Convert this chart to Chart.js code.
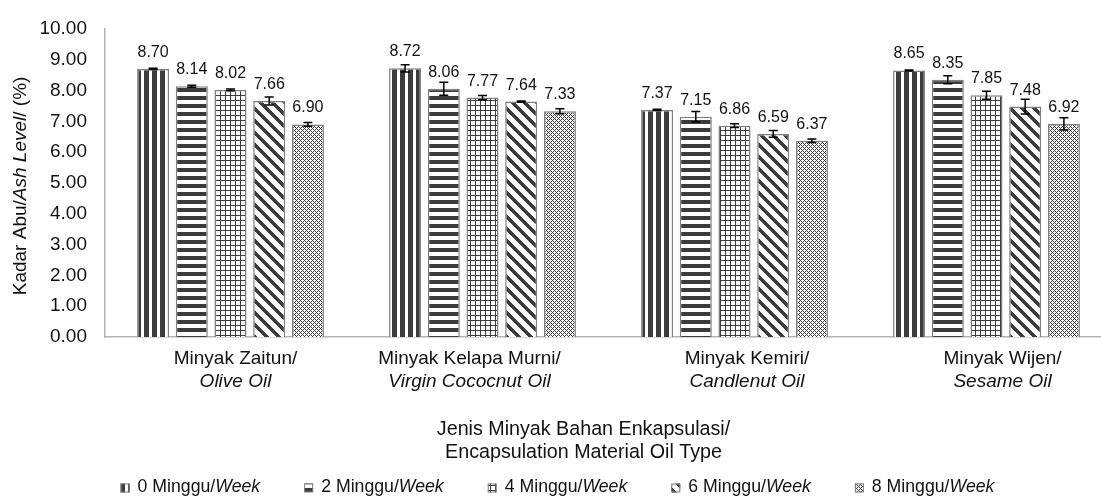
<!DOCTYPE html>
<html>
<head>
<meta charset="utf-8">
<script src="https://cdn.jsdelivr.net/npm/chart.js@4.4.1/dist/chart.umd.min.js"></script>
<style>
    html, body { margin: 0; padding: 0; background: #fff; }
    #wrap { width: 1101px; height: 496px; overflow: hidden; }
    #inner { width: 1115px; height: 496px; }
</style>
</head>
<body>
<div id="wrap"><div id="inner"><canvas id="ashChart"></canvas></div></div>
<script>
/* ============================ Data  ============================ */
const oilNames = ["Minyak Zaitun/", "Minyak Kelapa Murni/", "Minyak Kemiri/", "Minyak Wijen/"];
const oilNamesEn = ["Olive Oil", "Virgin Cococnut Oil", "Candlenut Oil", "Sesame Oil"];
const weekLabels = ["0 Minggu/", "2 Minggu/", "4 Minggu/", "6 Minggu/", "8 Minggu/"];

const week0 = [8.70, 8.72, 7.37, 8.65];
const week2 = [8.14, 8.06, 7.15, 8.35];
const week4 = [8.02, 7.77, 6.86, 7.85];
const week6 = [7.66, 7.64, 6.59, 7.48];
const week8 = [6.90, 7.33, 6.37, 6.92];

const err0 = [0.02, 0.12, 0.02, 0.02];
const err2 = [0.03, 0.21, 0.17, 0.13];
const err4 = [0.03, 0.07, 0.06, 0.13];
const err6 = [0.13, 0.02, 0.11, 0.24];
const err8 = [0.06, 0.08, 0.06, 0.20];

const yTicks = [0, 1, 2, 3, 4, 5, 6, 7, 8, 9, 10];

/* ============================ Styles  ============================ */
const FAMILY = '"Liberation Sans", Arial, sans-serif';
const INK = "#3c3c3c";
const TEXT = "#111";
const AXIS = "#b4b4b4";
// the category labels in the original sit a bit off the bar groups
const labelShift = [5, -13, 12.5, 16];

function font(size, italic) {
    return (italic ? "italic " : "") + size + "px " + FAMILY;
}

// small tiles to imitate excel pattern fills
function makePattern(size, isInk) {
    const c = document.createElement("canvas");
    c.width = size;
    c.height = size;
    const g = c.getContext("2d");
    g.fillStyle = "#fff";
    g.fillRect(0, 0, size, size);
    g.fillStyle = INK;
    for (let x = 0; x < size; x++) {
        for (let y = 0; y < size; y++) {
            if (isInk(x, y)) g.fillRect(x, y, 1, 1);
        }
    }
    return g.createPattern(c, "repeat");
}

const patterns = [
    makePattern(8, (x, y) => x < 5),
    makePattern(8, (x, y) => y < 4),
    makePattern(5, (x, y) => x === 0 || y === 0),
    makePattern(12, (x, y) => ((x - y + 12) % 12) < 5),
    makePattern(4, (x, y) => (x + y) % 4 === 0 || (x - y + 4) % 4 === 0),
];

const seriesValues = [week0, week2, week4, week6, week8];
const seriesErrors = [err0, err2, err4, err6, err8];

/* ============================ Extra drawing  ============================ */
function drawParts(ctx, parts, x, y, size, align) {
    const widths = parts.map(function (p) {
        ctx.font = font(size, p.it);
        return ctx.measureText(p.t).width;
    });
    const total = widths.reduce((a, b) => a + b, 0);
    let cx = align === "center" ? x - total / 2 : x;
    ctx.textAlign = "left";
    parts.forEach(function (p, i) {
        ctx.font = font(size, p.it);
        ctx.fillText(p.t, cx, y);
        cx += widths[i];
    });
    return total;
}

const extras = {
    id: "extras",
    afterDatasetsDraw: function (chart) {
        const ctx = chart.ctx;
        const yScale = chart.scales.y;
        ctx.save();
        // error bars
        ctx.strokeStyle = "#000";
        ctx.lineWidth = 1.5;
        chart.data.datasets.forEach(function (ds, di) {
            const meta = chart.getDatasetMeta(di);
            meta.data.forEach(function (bar, i) {
                const v = ds.data[i];
                const e = seriesErrors[di][i];
                const yt = yScale.getPixelForValue(v + e);
                const yb = yScale.getPixelForValue(v - e);
                ctx.beginPath();
                ctx.moveTo(bar.x, yt);
                ctx.lineTo(bar.x, yb);
                ctx.moveTo(bar.x - 4.5, yt);
                ctx.lineTo(bar.x + 4.5, yt);
                ctx.moveTo(bar.x - 4.5, yb);
                ctx.lineTo(bar.x + 4.5, yb);
                ctx.stroke();
            });
        });
        // value labels
        ctx.fillStyle = TEXT;
        ctx.font = font(16);
        ctx.textAlign = "center";
        ctx.textBaseline = "alphabetic";
        chart.data.datasets.forEach(function (ds, di) {
            chart.getDatasetMeta(di).data.forEach(function (bar, i) {
                ctx.fillText(ds.data[i].toFixed(2), bar.x, bar.y - 12);
            });
        });
        ctx.restore();
    },
    afterDraw: function (chart) {
        const ctx = chart.ctx;
        const xScale = chart.scales.x;
        const area = chart.chartArea;
        ctx.save();
        ctx.fillStyle = TEXT;
        ctx.textBaseline = "alphabetic";

        // category labels, two lines
        oilNames.forEach(function (name, i) {
            const x = xScale.getPixelForValue(i) + labelShift[i];
            drawParts(ctx, [{ t: name }], x, area.bottom + 27, 19, "center");
            drawParts(ctx, [{ t: oilNamesEn[i], it: true }], x, area.bottom + 50, 19, "center");
        });

        // axis titles
        drawParts(ctx, [{ t: "Jenis Minyak Bahan Enkapsulasi/" }], 583.5, 435, 19.7, "center");
        drawParts(ctx, [{ t: "Encapsulation Material Oil Type" }], 583.5, 458, 19.7, "center");

        ctx.save();
        ctx.translate(21, (area.top + area.bottom) / 2 + 3);
        ctx.rotate(-Math.PI / 2);
        ctx.textBaseline = "middle";
        drawParts(ctx, [{ t: "Kadar Abu/" }, { t: "Ash Level", it: true }, { t: "/ (%)" }], 0, 0, 19, "center");
        ctx.restore();

        // legend
        ctx.font = font(17.7);
        let textW = ctx.measureText(weekLabels[0]).width;
        ctx.font = font(17.7, true);
        textW += ctx.measureText("Week").width;
        const itemW = 9 + 8 + textW;
        const gap = 44;
        const total = weekLabels.length * itemW + (weekLabels.length - 1) * gap;
        let lx = chart.width / 2 - total / 2;
        weekLabels.forEach(function (lab, i) {
            ctx.fillStyle = patterns[i];
            ctx.fillRect(lx, 483.5, 9, 9);
            ctx.strokeStyle = "#7f7f7f";
            ctx.lineWidth = 1;
            ctx.strokeRect(lx + 0.5, 484, 8, 8);
            ctx.fillStyle = TEXT;
            drawParts(ctx, [{ t: lab }, { t: "Week", it: true }], lx + 17, 492, 17.7, "left");
            lx += itemW + gap;
        });
        ctx.restore();
    },
};

/* ============================ Chart  ============================ */
const ashChart = new Chart(document.getElementById("ashChart"), {
    type: "bar",
    data: {
        labels: oilNames,
        datasets: seriesValues.map(function (vals, i) {
            return {
                label: weekLabels[i] + "Week",
                data: vals,
                backgroundColor: patterns[i],
                borderColor: "#7f7f7f",
                borderWidth: 1.5,
                categoryPercentage: 0.768,
                barPercentage: 0.827,
            };
        }),
    },
    options: {
        responsive: true,
        maintainAspectRatio: false,
        animation: false,
        events: [],
        layout: {
            padding: { top: 26, right: 2.5, left: 0, bottom: 0 },
        },
        scales: {
            x: {
                grid: { display: false, drawTicks: false },
                border: { display: true, color: AXIS, width: 1.5 },
                ticks: { display: false },
                afterFit: function (scale) {
                    scale.height = 159;
                },
            },
            y: {
                min: 0,
                max: 10,
                afterBuildTicks: function (scale) {
                    scale.ticks = yTicks.map((v) => ({ value: v }));
                },
                grid: { display: false, drawTicks: false },
                border: { display: true, color: AXIS, width: 1.5 },
                ticks: {
                    padding: 17.5,
                    color: TEXT,
                    font: { family: FAMILY, size: 19 },
                    callback: function (v) {
                        return Number(v).toFixed(2);
                    },
                },
                afterFit: function (scale) {
                    scale.width = 104.5;
                },
            },
        },
        plugins: {
            legend: { display: false },
            tooltip: { enabled: false },
        },
    },
    plugins: [extras],
});
</script>
</body>
</html>
